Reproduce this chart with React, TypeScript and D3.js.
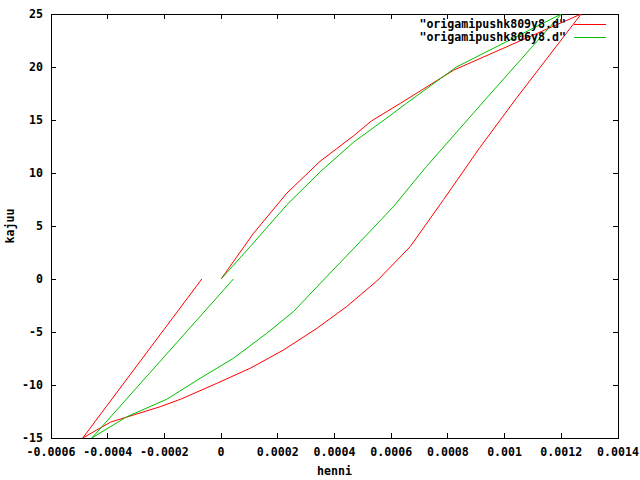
import React from 'react';
import * as d3 from 'd3';

// hysteresis loops: [henni, kajuu]
const red809: [number, number][] = [
  [0, 0], [0.000114, 4.3], [0.000232, 8.1], [0.000349, 11.1], [0.000467, 13.5], [0.00053, 14.9],
  [0.000634, 16.6], [0.00082, 19.7], [0.00127, 25],
  [0.00104, 17], [0.00091, 12.3], [0.000785, 7.5], [0.000667, 3.05], [0.000549, -0.2],
  [0.000443, -2.6], [0.000338, -4.65], [0.00022, -6.7], [0.000102, -8.43], [-0.000015, -9.84],
  [-0.000139, -11.3], [-0.000215, -12.05], [-0.00039, -13.5], [-0.000488, -15],
  [-0.000068, 0],
];
const green806: [number, number][] = [
  [0, 0], [0.000114, 3.4], [0.000232, 7.0], [0.000349, 10.1], [0.000467, 12.9], [0.00058, 15.1],
  [0.000655, 16.6], [0.00083, 20], [0.0012, 25],
  [0.000931, 16.9], [0.000724, 10.6], [0.000607, 6.8], [0.00049, 3.5], [0.000361, -0.1],
  [0.000255, -3.08], [0.000161, -5.12], [0.0000434, -7.48], [-0.000074, -9.37],
  [-0.000192, -11.35], [-0.000333, -13.0], [-0.000456, -15],
  [0.0000435, 0],
];
const seriesNames = ['"origamipushk809y8.d"', '"origamipushk806y8.d"'];
const xTicks = [-0.0006, -0.0004, -0.0002, 0, 0.0002, 0.0004, 0.0006, 0.0008, 0.001, 0.0012, 0.0014];
const xTickLabels = ['-0.0006', '-0.0004', '-0.0002', '0', '0.0002', '0.0004', '0.0006', '0.0008', '0.001', '0.0012', '0.0014'];
const yTicks = [-15, -10, -5, 0, 5, 10, 15, 20, 25];

const W = 640;
const H = 480;
const left = 51, right = 618, top = 14, bottom = 438;
const font = "'DejaVu Sans Mono', monospace";

const App = () => {
  const x = d3.scaleLinear().domain([-0.0006, 0.0014]).range([left, right]);
  const y = d3.scaleLinear().domain([-15, 25]).range([bottom, top]);
  const line = d3.line<[number, number]>().x(d => x(d[0])).y(d => y(d[1]));
  const series = [
    { data: red809, color: '#ff0000' },
    { data: green806, color: '#00c000' },
  ];
  const tick = 5;

  return (
    <svg width={W} height={H} style={{ position: 'absolute', left: 0, top: 0, background: '#fff' }}
      fontFamily={font} fontWeight="bold" fontSize={11.6}>
      <defs>
        <clipPath id="plot">
          <rect x={left} y={top} width={right - left} height={bottom - top} />
        </clipPath>
      </defs>

      {/* ticks, mirrored on all sides */}
      <g stroke="#000" strokeWidth={1} shapeRendering="crispEdges">
        {xTicks.map(t => (
          <g key={'x' + t}>
            <line x1={x(t)} x2={x(t)} y1={bottom} y2={bottom - tick} />
            <line x1={x(t)} x2={x(t)} y1={top} y2={top + tick} />
          </g>
        ))}
        {yTicks.map(t => (
          <g key={'y' + t}>
            <line x1={left} x2={left + tick} y1={y(t)} y2={y(t)} />
            <line x1={right} x2={right - tick} y1={y(t)} y2={y(t)} />
          </g>
        ))}
        <rect x={left} y={top} width={right - left} height={bottom - top} fill="none" />
      </g>

      {xTicks.map((t, i) => (
        <text key={'xl' + t} x={x(t)} y={bottom + 18} textAnchor="middle">{xTickLabels[i]}</text>
      ))}
      {yTicks.map(t => (
        <text key={'yl' + t} x={left - 8} y={y(t) + 4} textAnchor="end">{t}</text>
      ))}

      <text x={(left + right) / 2} y={475} textAnchor="middle">henni</text>
      <text transform={`translate(14,${(top + bottom) / 2}) rotate(-90)`} textAnchor="middle">kajuu</text>

      {/* data */}
      <g clipPath="url(#plot)">
        {series.map((s, i) => (
          <path key={i} d={line(s.data) ?? ''} fill="none" stroke={s.color} strokeWidth={1} />
        ))}
      </g>

      {/* key */}
      {series.map((s, i) => (
        <g key={'k' + i}>
          <text x={566} y={28 + i * 13} textAnchor="end">{seriesNames[i]}</text>
          <line x1={574} x2={606} y1={24.5 + i * 13} y2={24.5 + i * 13} stroke={s.color} strokeWidth={1} />
        </g>
      ))}
    </svg>
  );
};

export default App;
